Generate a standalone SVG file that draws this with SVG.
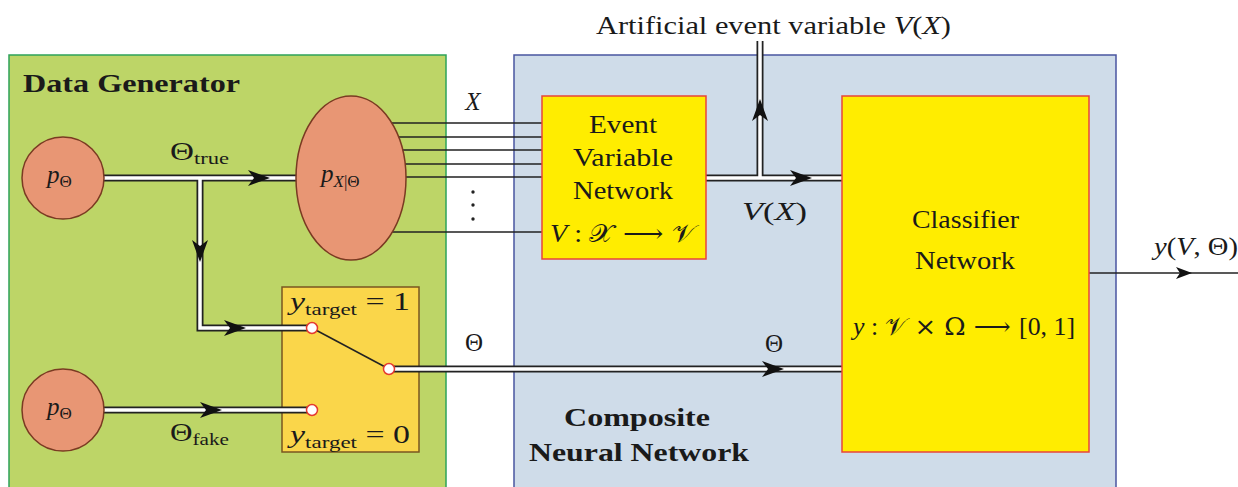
<svg xmlns="http://www.w3.org/2000/svg" xmlns:xlink="http://www.w3.org/1999/xlink" width="1238" height="487" viewBox="0 0 1238 487">
<style>
text{font-family:"Liberation Serif","DejaVu Serif",serif;fill:#1a1a1a}
.t{font-size:25px}
.it{font-style:italic}
.b{font-weight:bold;font-size:25px}
.sub{font-size:17px}
.m{font-family:"DejaVu Serif","Liberation Serif",serif}
.dblo{stroke:#222;stroke-width:7;fill:none}
.dbli{stroke:#fff;stroke-width:3.5;fill:none}
.thin{stroke:#222;stroke-width:1.5;fill:none}
.circ{fill:#E89674;stroke:#7A3A22;stroke-width:1.5}
.sw{fill:#fff;stroke:#E53A2E;stroke-width:1.5}
</style>
<defs>
<path id="ah" d="M0,0 L-22,-8 L-16,0 L-22,8 Z" fill="#111"/>
<path id="ahs" d="M0,0 L-16,-6 L-12,0 L-16,6 Z" fill="#111"/>
</defs>
<rect width="1238" height="487" fill="#fff"/>

<g id="data-generator">
<rect x="9" y="55" width="437" height="440" fill="#BDD567" stroke="#2EA35A" stroke-width="1.5"/>
<text class="b" x="23" y="92" textLength="217" lengthAdjust="spacingAndGlyphs">Data Generator</text>
</g>

<g id="composite-network">
<rect x="514" y="55" width="602" height="440" fill="#CFDCE9" stroke="#4A55A0" stroke-width="1.5"/>
<text class="b" x="564" y="426" textLength="146" lengthAdjust="spacingAndGlyphs">Composite</text>
<text class="b" x="529" y="461" textLength="220" lengthAdjust="spacingAndGlyphs">Neural Network</text>
</g>

<g id="switch-box">
<rect x="282" y="287" width="137" height="165" fill="#FAD64A" stroke="#7A5520" stroke-width="1.5"/>
<text class="t" x="290" y="310" textLength="120" lengthAdjust="spacingAndGlyphs"><tspan class="it">y</tspan><tspan class="sub" dy="5">target</tspan><tspan dy="-5"> = 1</tspan></text>
<text class="t" x="290" y="443" textLength="120" lengthAdjust="spacingAndGlyphs"><tspan class="it">y</tspan><tspan class="sub" dy="5">target</tspan><tspan dy="-5"> = 0</tspan></text>
</g>

<g id="connectors">
<path class="thin" d="M380,123H542M380,137H542M380,150H542M380,164H542M380,177H542M380,232H542"/>
<path class="dblo" d="M100,178H297M200,178V328H312"/>
<path class="dbli" d="M100,178H297M200,178V328H312"/>
<path class="dblo" d="M100,410H312"/>
<path class="dbli" d="M100,410H312"/>
<path class="dblo" d="M389,369H842"/>
<path class="dbli" d="M389,369H842"/>
<path class="dblo" d="M706,178H842M760,178V41"/>
<path class="dbli" d="M706,178H842M760,178V41"/>
<path class="thin" d="M1089,273H1238"/>
<line class="thin" x1="312" y1="328" x2="389" y2="369"/>
<use xlink:href="#ah" transform="translate(270,178)"/>
<use xlink:href="#ah" transform="translate(200,262) rotate(90)"/>
<use xlink:href="#ah" transform="translate(246,328)"/>
<use xlink:href="#ah" transform="translate(222,410)"/>
<use xlink:href="#ah" transform="translate(784,369)"/>
<use xlink:href="#ah" transform="translate(812,178)"/>
<use xlink:href="#ah" transform="translate(760,99) rotate(-90)"/>
<use xlink:href="#ahs" transform="translate(1192,273)"/>
<circle cx="473" cy="192" r="1.7" fill="#222"/>
<circle cx="473" cy="205" r="1.7" fill="#222"/>
<circle cx="473" cy="219" r="1.7" fill="#222"/>
<text class="t it" x="473" y="110" text-anchor="middle">X</text>
<text class="t" x="170" y="160" textLength="59" lengthAdjust="spacingAndGlyphs">Θ<tspan class="sub" dy="4">true</tspan></text>
<text class="t" x="170" y="441" textLength="59" lengthAdjust="spacingAndGlyphs">Θ<tspan class="sub" dy="4">fake</tspan></text>
<text class="t" x="474" y="351" text-anchor="middle">Θ</text>
<text class="t" x="774" y="352" text-anchor="middle">Θ</text>
<text class="t" x="742" y="220" textLength="65" lengthAdjust="spacingAndGlyphs"><tspan class="it">V</tspan>(<tspan class="it">X</tspan>)</text>
<text class="t" x="596" y="34" textLength="355" lengthAdjust="spacingAndGlyphs">Artificial event variable <tspan class="it">V</tspan>(<tspan class="it">X</tspan>)</text>
<text class="t" x="1154" y="255" textLength="84" lengthAdjust="spacingAndGlyphs"><tspan class="it">y</tspan>(<tspan class="it">V</tspan>, Θ)</text>
</g>

<g id="switch-contacts">
<circle class="sw" cx="312" cy="328" r="5.5"/>
<circle class="sw" cx="312" cy="410" r="5.5"/>
<circle class="sw" cx="389" cy="369" r="5.5"/>
</g>

<g id="p-theta-true">
<circle class="circ" cx="63" cy="178" r="41"/>
<text class="t" x="47" y="183"><tspan class="it">p</tspan><tspan class="sub" dy="4">Θ</tspan></text>
</g>

<g id="p-theta-fake">
<circle class="circ" cx="63" cy="410" r="41"/>
<text class="t" x="47" y="415"><tspan class="it">p</tspan><tspan class="sub" dy="4">Θ</tspan></text>
</g>

<g id="p-x-given-theta">
<ellipse class="circ" cx="351" cy="178" rx="55" ry="82"/>
<text class="t" x="321" y="182"><tspan class="it">p</tspan><tspan class="sub it" dy="5">X</tspan><tspan class="sub">|Θ</tspan></text>
</g>

<g id="event-variable-network">
<rect x="542" y="96" width="164" height="163" fill="#FFED00" stroke="#E8453A" stroke-width="1.5"/>
<text class="t" x="589" y="133" textLength="68" lengthAdjust="spacingAndGlyphs">Event</text>
<text class="t" x="573" y="166" textLength="100" lengthAdjust="spacingAndGlyphs">Variable</text>
<text class="t" x="573" y="199" textLength="100" lengthAdjust="spacingAndGlyphs">Network</text>
<text class="t" x="550" y="242" textLength="146" lengthAdjust="spacingAndGlyphs"><tspan class="it">V</tspan> : <tspan class="m">𝒳 ⟶ 𝒱</tspan></text>
</g>

<g id="classifier-network">
<rect x="842" y="96" width="247" height="356" fill="#FFED00" stroke="#E8453A" stroke-width="1.5"/>
<text class="t" x="912" y="228" textLength="107" lengthAdjust="spacingAndGlyphs">Classifier</text>
<text class="t" x="915" y="269" textLength="100" lengthAdjust="spacingAndGlyphs">Network</text>
<text class="t" x="853" y="335" textLength="222" lengthAdjust="spacingAndGlyphs"><tspan class="it">y</tspan> : <tspan class="m">𝒱 × Ω ⟶ </tspan>[0, 1]</text>
</g>
</svg>
